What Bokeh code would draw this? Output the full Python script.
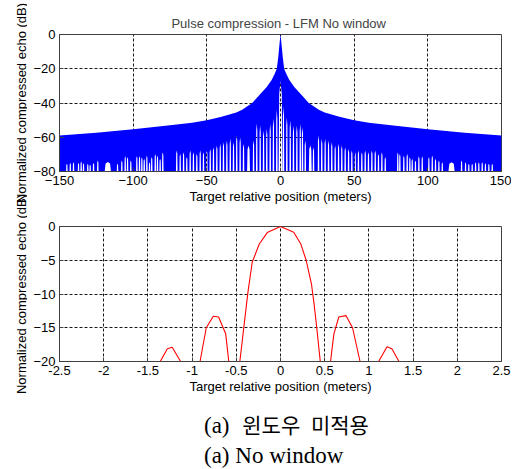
import math
from bokeh.plotting import figure
from bokeh.models import FixedTicker, Range1d, Div, ColumnDataSource
from bokeh.layouts import column, row
from bokeh.embed import file_html
from bokeh.resources import INLINE
from bokeh.core.properties import value

# ---------------- data ----------------
# upper panel: sidelobe envelope (dB) at distance from the peak (m)
env_offset_m = [0, 0.5, 0.9, 1.5, 2.5, 4, 6, 9.5, 14, 19.2, 26, 30, 40, 50, 60, 75, 100, 125, 150]
env_db = [0, -4, -7.5, -13, -20, -23, -26.5, -30.8, -35, -40, -44, -45.5, -48, -50, -51.5, -53, -55.3, -57.3, -59]

# upper panel: white gaps (nulls) that rise from the -80 dB floor
null_x = [-145, -142.7, -140.5, -137.1, -135.3, -133.7, -130.8, -129.2, -126.9, -124, -117.2,
          -110.6, -107.7, -105.4, -103.8, -101.6, -97.5, -95.7, -94.1, -92.5, -90.7, -88.9, -87.4,
          -85, -83.5, -81.7, -79.9,
          -70.4, -68.1, -65.8, -63.6, -61.3, -59.1, -56.8, -54.5, -52.3, -50, -47.7, -45.5, -43.2,
          -40.9, -38.7, -36.4, -34.1, -31.9, -29.7, -27.4, -25.1, -21.7, -18.3, -16.1, -13.8, -11.5,
          -9.3, -7, -4.8, -2.5,
          0,
          2.0, 4.3, 6.6, 8.8, 11.1, 13.4, 14.9, 16.8, 20.2, 22.4, 25.8, 28, 30.3, 32.6, 34.8, 37.1,
          39.4, 41.6, 43.9, 46.2, 48.4, 50.7, 52.9, 55.2, 57.5, 59.7, 62, 64.3, 66.5, 68.8, 71.1,
          79.6, 81, 83.7, 86, 87.8, 89.4, 91.6, 93.9, 96.2, 100.7, 103, 105.2, 107.5, 109.8, 116.1,
          122.9, 125.6, 127.8, 130.1, 132.4, 134.6, 136.9, 139.1, 141.4, 143.7]
null_top_db = [-75.5, -75, -74.6, -75, -74.2, -75.2, -75.5, -76.1, -75, -73.6, -74.5,
               -75.5, -73.6, -71, -71.6, -73.6, -71, -71, -71.6, -72.6, -70.7, -74.6, -71.6,
               -69.7, -70.7, -72.6, -68.7,
               -67.7, -69.7, -68.7, -71.6, -67.7, -68.7, -69.7, -67.7, -68.7, -67.7, -66.8, -65.8, -64.8,
               -63.8, -62.9, -61.9, -60.9, -62.9, -59, -60, -63.8, -64.8, -61.9, -52, -53.1, -56,
               -55, -52.2, -49, -44,
               -27,
               -42, -48.3, -50.2, -53.1, -53.1, -52.2, -54.1, -61.9, -64.8, -65.8, -59, -60.9, -60.9, -61.9, -62.9, -64.8,
               -63.8, -64.8, -65.8, -66.8, -67.7, -68.7, -67.7, -68.7, -67.7, -68.7, -67.7, -67.7, -69.7, -68.7, -71.6,
               -68.7, -69.7, -70.7, -69.7, -71.6, -72.6, -73.6, -71.1, -71.1, -71.6, -70.7, -72.6, -73.6, -74.6, -74.6,
               -73.6, -74.6, -75.5, -75.5, -74.6, -74.6, -74.6, -75.2, -75.5, -75.5]
null_width_m = [1.1] * len(null_x)
for _i, _x in enumerate(null_x):
    if abs(_x) in (117.2, 116.1):
        null_width_m[_i] = 4.5
    elif abs(_x) in (21.7, 20.2):
        null_width_m[_i] = 2.0
    elif _x == 0:
        null_width_m[_i] = 2.6

# lower panel: zoom on the main lobe
zoom_x = [-1.45, -1.36, -1.28, -1.225, -1.13, -1.05, -0.91, -0.84, -0.76, -0.70, -0.62, -0.585,
          -0.52, -0.46, -0.37, -0.32, -0.24, -0.15, 0, 0.15, 0.23, 0.29, 0.35, 0.38, 0.41, 0.45,
          0.5, 0.566, 0.604, 0.66, 0.74, 0.815, 0.90, 1.0, 1.11, 1.205, 1.26, 1.34, 1.45]
zoom_db = [-30, -20, -18.1, -17.9, -20, -32, -20, -15, -13.3, -13.4, -15.9, -20,
           -35, -20, -9.9, -5.3, -2.6, -0.9, 0, -0.84, -2.6, -5.0, -8.5, -11.5, -15, -20,
           -35, -20, -15.9, -13.4, -13.2, -15, -20, -32, -20, -17.8, -18.1, -20, -30]

top_xticks = [-150, -100, -50, 0, 50, 100, 150]
top_yticks = [-80, -60, -40, -20, 0]
bot_xticks = [-2.5, -2, -1.5, -1, -0.5, 0, 0.5, 1, 1.5, 2, 2.5]
bot_xlabels = ["-2.5", "-2", "-1.5", "-1", "-0.5", "0", "0.5", "1", "1.5", "2", "2.5"]
bot_yticks = [-20, -15, -10, -5, 0]

title_text = "Pulse compression - LFM  No window"
xlabel_text = "Target relative position (meters)"
ylabel_text = "Normalized compressed echo (dB)"

FONT = "Liberation Sans"
BOX = "#404040"

# ---------------- layout constants ----------------
LBL_W = 27
B_LEFT = 32
B_RIGHT = 10
FIG_W = B_LEFT + 442 + B_RIGHT
TOP_H = 206
BOT_H = 194
TOP_BT, TOP_BB = 34, 35
BOT_BT, BOT_BB = 20, 39


def style(p, xt, yt, xlabels=None):
    p.xaxis.ticker = FixedTicker(ticks=xt)
    p.yaxis.ticker = FixedTicker(ticks=yt)
    if xlabels is not None:
        p.xaxis.major_label_overrides = {float(t): s for t, s in zip(xt, xlabels)}
    for ax in p.xaxis + p.yaxis:
        ax.major_label_text_font = FONT
        ax.major_label_text_font_size = "13px"
        ax.major_label_text_color = "black"
        ax.major_tick_in = 4
        ax.major_tick_out = 0
        ax.minor_tick_line_color = None
        ax.axis_line_color = BOX
        ax.major_tick_line_color = BOX
        ax.major_label_standoff = 4
    p.xaxis.axis_label = xlabel_text
    p.xaxis.axis_label_text_font = FONT
    p.xaxis.axis_label_text_font_size = "13px"
    p.xaxis.axis_label_text_font_style = "normal"
    p.xaxis.axis_label_text_color = "black"
    p.xaxis.axis_label_standoff = 1
    for g, tk in ((p.xgrid, xt), (p.ygrid, yt)):
        g.ticker = FixedTicker(ticks=tk)
        g.grid_line_color = "black"
        g.grid_line_dash = "3 2"
        g.grid_line_alpha = 0.9
    p.outline_line_color = BOX
    p.outline_line_width = 1
    p.background_fill_color = "white"
    p.border_fill_color = "white"


# ---------------- upper panel ----------------
p1 = figure(width=FIG_W, height=TOP_H, x_range=Range1d(-150, 150), y_range=Range1d(-80, 0),
            output_backend="svg", toolbar_location=None,
            min_border_left=B_LEFT, min_border_right=B_RIGHT,
            min_border_top=TOP_BT, min_border_bottom=TOP_BB)
p1.title.text = title_text
p1.title.align = "center"
p1.title.text_font = FONT
p1.title.text_font_size = "13px"
p1.title.text_font_style = "normal"
p1.title.standoff = 7
style(p1, top_xticks, top_yticks)

# polygon: envelope on top, floor (with the null gaps) below
up_x = [-o for o in reversed(env_offset_m)] + env_offset_m[1:]
up_y = list(reversed(env_db)) + env_db[1:]
lo_x, lo_y = [150], [-81]
order = sorted(range(len(null_x)), key=lambda i: -null_x[i])
for i in order:
    x, t, w = null_x[i], null_top_db[i], null_width_m[i]
    sh = t - 0.15 * (t + 80)
    lo_x += [x + w / 2, x + w / 3, x, x - w / 3, x - w / 2]
    lo_y += [-81, sh, t, sh, -81]
lo_x.append(-150)
lo_y.append(-81)
p1.patch(up_x + lo_x, up_y + lo_y, fill_color="#0000ff", line_color=None)

# ---------------- lower panel ----------------
p2 = figure(width=FIG_W, height=BOT_H, x_range=Range1d(-2.5, 2.5), y_range=Range1d(-20, 0),
            output_backend="svg", toolbar_location=None,
            min_border_left=B_LEFT, min_border_right=B_RIGHT,
            min_border_top=BOT_BT, min_border_bottom=BOT_BB)
style(p2, bot_xticks, bot_yticks, bot_xlabels)
p2.line(zoom_x, zoom_db, line_color="#ff0000", line_width=1.1)

# ---------------- y labels (own narrow figure so they are not clipped) ----------------
TOT_H = TOP_H + BOT_H
lf = figure(width=LBL_W, height=TOT_H, x_range=Range1d(0, LBL_W), y_range=Range1d(0, TOT_H),
            output_backend="svg", toolbar_location=None, x_axis_type=None, y_axis_type=None,
            min_border=0, outline_line_color=None)
lf.background_fill_color = "white"
lf.border_fill_color = "white"
top_frame_c = TOT_H - (TOP_BT + (TOP_H - TOP_BT - TOP_BB) / 2)
bot_frame_c = BOT_H - (BOT_BT + (BOT_H - BOT_BT - BOT_BB) / 2)
lsrc = ColumnDataSource(dict(x=[LBL_W - 6.5, LBL_W - 6.5], y=[top_frame_c, bot_frame_c],
                             t=[ylabel_text, ylabel_text]))
lf.text(x="x", y="y", text="t", source=lsrc, angle=math.pi / 2, text_align="center",
        text_baseline="middle", text_font=value(FONT), text_font_size="13px", text_color="black")

# ---------------- caption ----------------
caption = Div(
    text=("<div style=\"font-family:'Liberation Serif','Times New Roman',serif;font-size:23px;"
          "color:#000;padding-left:199px;padding-top:4px;line-height:30px;white-space:nowrap;\">"
          "<div>(a) <span style=\"font-family:'Noto Sans CJK KR';font-size:21px;"
          "margin-left:7px;word-spacing:6px;\">윈도우 미적용</span></div>"
          "<div>(a) No window</div></div>"),
    width=LBL_W + FIG_W, height=69)

layout = column(row(lf, column(p1, p2)), caption)
open("out.html", "w").write(file_html(layout, INLINE))
